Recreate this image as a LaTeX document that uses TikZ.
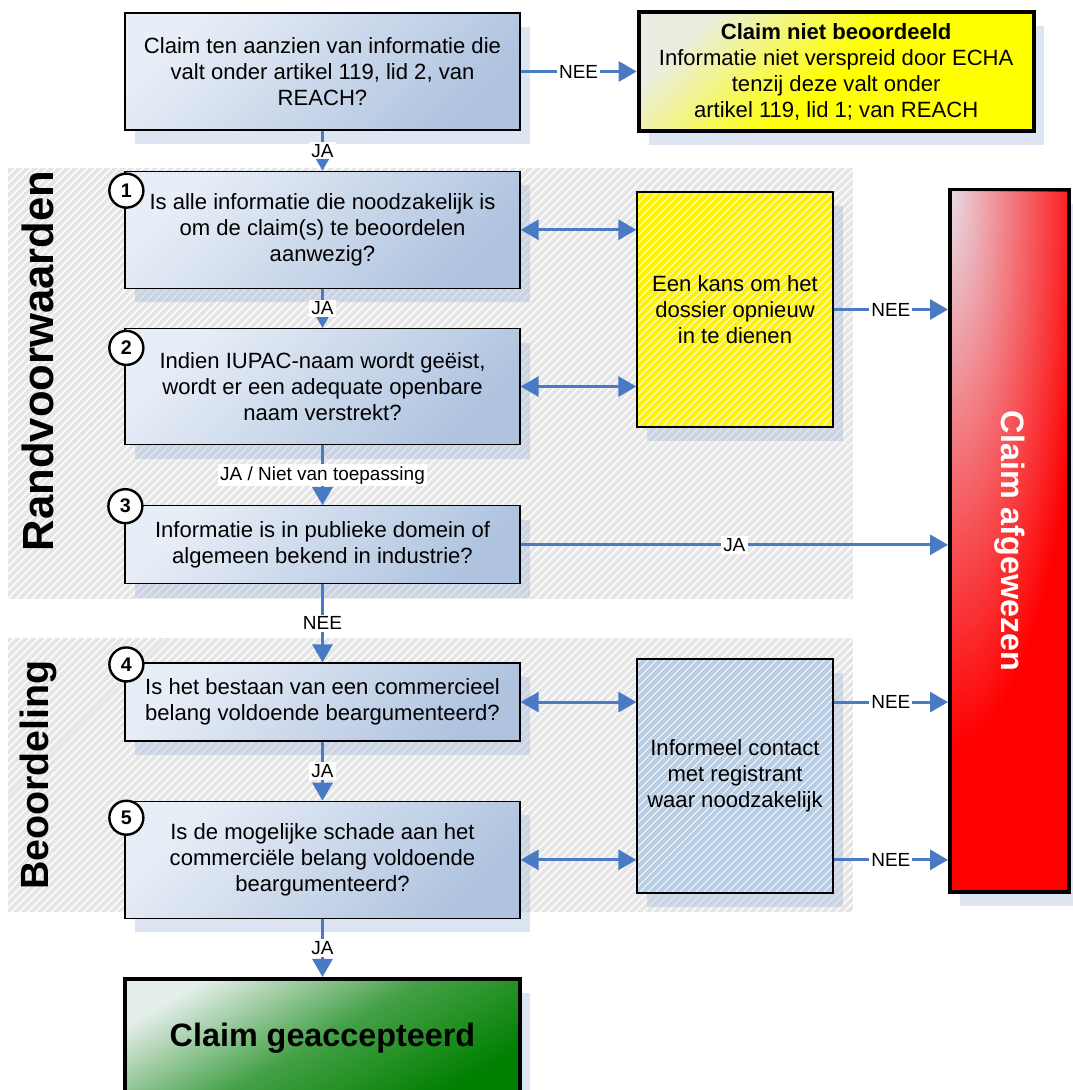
\documentclass[tikz,border=0pt]{standalone}
\usepackage{fontspec}
\setmainfont{Liberation Sans}
\usetikzlibrary{positioning,arrows.meta,calc,shadows,patterns.meta,fadings}
\definecolor{pijlcol}{HTML}{4A7AC4}
\definecolor{vraaglicht}{HTML}{E8EEF7}
\definecolor{vraagdonker}{HTML}{AFC3DF}
\definecolor{schaduwcol}{HTML}{9FB3D9}
\definecolor{zonegrijs}{HTML}{E6E6E6}
\definecolor{contactcol}{HTML}{B9CDE5}
\definecolor{roodlicht}{HTML}{E8DEE8}
\definecolor{groenlicht}{HTML}{E4EEEA}
\definecolor{groencol}{HTML}{007F00}
\definecolor{geellicht}{HTML}{EAEEE0}
\tikzfading[name=hoekfade,inner color=transparent!0,outer color=transparent!100]

\begin{document}
\begin{tikzpicture}[x=0.25mm,y=-0.25mm,
   font=\fontsize{15.7}{18.5}\selectfont,
   schaduw/.style={drop shadow={shadow xshift=2.5mm,shadow yshift=-3.5mm,
              fill=schaduwcol,opacity=0.35}},
   vraag/.style={draw,line width=0.9pt,top color=vraaglicht,bottom color=vraagdonker,
              shading angle=45,minimum width=98.75mm,align=center,inner sep=2pt,schaduw},
   eind/.style={draw,line width=1mm,align=center,inner sep=2pt,schaduw},
   streep/.style={draw,line width=0.9pt,minimum width=49mm,minimum height=58.5mm,
              align=center,inner sep=2pt,schaduw},
   arcering/.style={pattern={Lines[angle=45,distance=1.4mm,line width=0.25mm]}},
   zone/.style={fill=zonegrijs,postaction={pattern={Lines[angle=45,distance=1.4mm,
              line width=0.3mm]},pattern color=white}},
   nummer/.style={circle,draw,fill=white,line width=0.6mm,minimum size=8.5mm,
              inner sep=0pt,font=\bfseries\fontsize{14}{16}\selectfont},
   titel/.style={rotate=90,font=\bfseries\fontsize{31}{36}\selectfont},
   pijl/.style={draw=pijlcol,line width=0.75mm},
   etiket/.style={fill=white,inner sep=1.5pt,font=\fontsize{13.5}{16}\selectfont},
   >={Triangle[length=4.5mm,width=5mm]},
]
\useasboundingbox (0,0) rectangle (1072,1090);

% grijze zones
\fill[zone] (8,168) rectangle (853,599);
\fill[zone] (8,638) rectangle (853,912);
\node[titel] (rv) at (38,361) {Randvoorwaarden};
\node[titel,font=\bfseries\fontsize{28}{33}\selectfont] (bo) at (38,775) {Beoordeling};

% vragen
\node[vraag,minimum height=29.25mm] (q0) at (322.5,71.5)
       {Claim ten aanzien van informatie die\\valt onder artikel 119, lid 2, van\\REACH?};
\node[vraag,minimum height=29.25mm,below=10mm of q0] (q1)
       {Is alle informatie die noodzakelijk is\\om de claim(s) te beoordelen\\aanwezig?};
\node[vraag,minimum height=29mm,below=9.75mm of q1] (q2)
       {Indien IUPAC-naam wordt geëist,\\wordt er een adequate openbare\\naam verstrekt?};
\node[vraag,minimum height=19.5mm,below=15mm of q2] (q3)
       {Informatie is in publieke domein of\\algemeen bekend in industrie?};
\node[vraag,minimum height=19.5mm,below=19.5mm of q3] (q4)
       {Is het bestaan van een commercieel\\belang voldoende beargumenteerd?};
\node[vraag,minimum height=29.25mm,below=14.75mm of q4] (q5)
       {Is de mogelijke schade aan het\\commerciële belang voldoende\\beargumenteerd?};

% nummers
\node[nummer] (n1) at ($(q1.north west)+(2,20)$) {1};
\node[nummer] (n2) at ($(q2.north west)+(2,20)$) {2};
\node[nummer] (n3) at ($(q3.north west)+(1,1)$)  {3};
\node[nummer] (n4) at ($(q4.north west)+(2,2)$)  {4};
\node[nummer] (n5) at ($(q5.north west)+(2,17)$) {5};

% uitkomsten
\node[eind,right=29mm of q0,minimum width=98.75mm,minimum height=29.75mm,
      top color=geellicht,bottom color=yellow,middle color=yellow,shading angle=45]
       (nietb) {\textbf{Claim niet beoordeeld}\\Informatie niet verspreid door ECHA\\
                tenzij deze valt onder\\artikel 119, lid 1; van REACH};
\node[eind,below=14.5mm of q5,minimum width=98.75mm,minimum height=29.5mm,
      top color=groenlicht,bottom color=groencol,middle color=groencol!70!groenlicht,
      shading angle=30,font=\bfseries\fontsize{23}{28}\selectfont]
       (ok) {Claim geaccepteerd};
\node[eind,fill=red,minimum width=29.75mm,minimum height=175.5mm]
       (afg) at (1009.5,541) {};
\begin{scope}
  \clip ($(afg.north west)+(4,4)$) rectangle ($(afg.south east)+(-4,-4)$);
  \fill[roodlicht,path fading=hoekfade] (afg.north west) ellipse [x radius=140,y radius=560];
\end{scope}
\node[rotate=-90,text=white,font=\bfseries\fontsize{23}{28}\selectfont]
       (afgt) at (afg.center) {Claim afgewezen};

% tussenstappen
\node[streep,minimum height=58.75mm,preaction={fill=yellow},
      preaction={arcering,pattern color=white!85!yellow}]
       (kans) at (735,309.5) {Een kans om het\\dossier opnieuw\\in te dienen};
\node[streep,preaction={fill=contactcol},
      preaction={arcering,pattern color=white!80!contactcol}]
       (contact) at (735,776) {Informeel contact\\met registrant\\waar noodzakelijk};

% pijlen
\draw[pijl,->] (q0) -- node[etiket] {NEE} (nietb);
\draw[pijl,->] (q0) -- node[etiket] {JA} (q1);
\draw[pijl,->] (q1) -- node[etiket] {JA} (q2);
\draw[pijl,->] (q2) -- node[etiket] {JA / Niet van toepassing} (q3);
\draw[pijl,->] (q3) -- node[etiket] {NEE} (q4);
\draw[pijl,->] (q4) -- node[etiket] {JA} (q5);
\draw[pijl,->] (q5) -- node[etiket] {JA} (ok);
\draw[pijl,<->] (q1) -- (q1 -| kans.west);
\draw[pijl,<->] (q2) -- (q2 -| kans.west);
\draw[pijl,<->] (q4) -- (q4 -| contact.west);
\draw[pijl,<->] (q5) -- (q5 -| contact.west);
\draw[pijl,->] (kans) -- node[etiket] {NEE} (kans -| afg.west);
\draw[pijl,->] (q3) -- node[etiket] {JA} (q3 -| afg.west);
\draw[pijl,->] (contact.east |- q4) -- node[etiket] {NEE} (afg.west |- q4);
\draw[pijl,->] (contact.east |- q5) -- node[etiket] {NEE} (afg.west |- q5);
\end{tikzpicture}
\end{document}
